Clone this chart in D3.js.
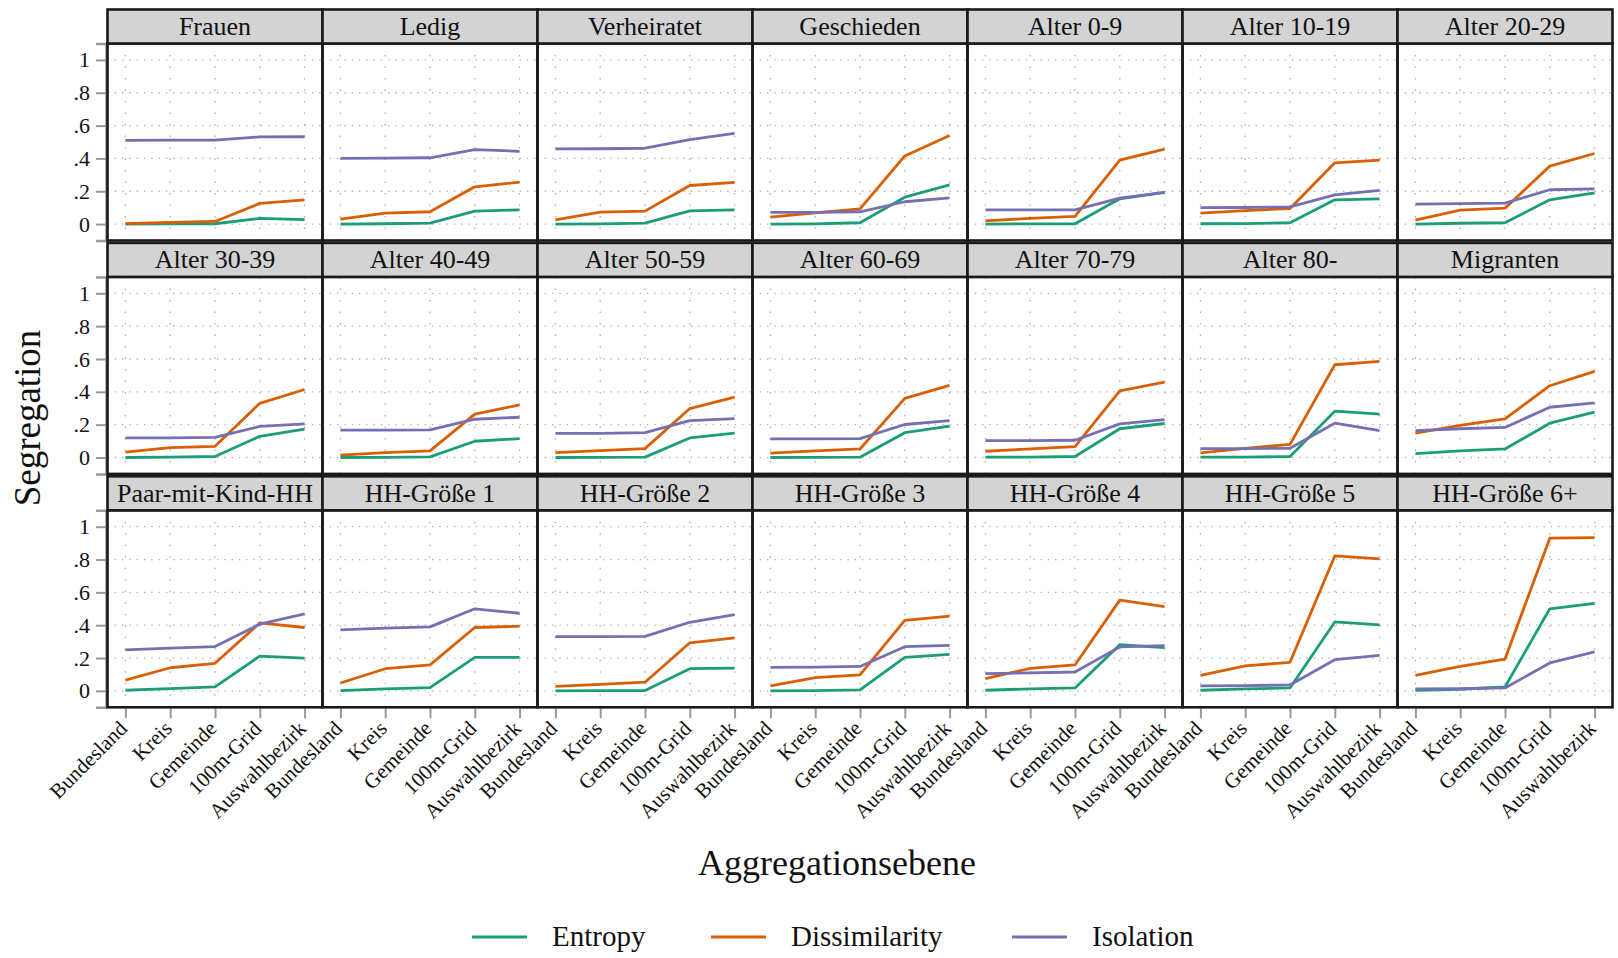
<!DOCTYPE html>
<html>
<head>
<meta charset="utf-8">
<script src="https://cdn.jsdelivr.net/npm/d3@7"></script>
<style>
  body { margin: 0; background: #fff; }
  svg text { font-family: "Liberation Serif", "Times New Roman", Times, serif; fill: #111; }
</style>
</head>
<body>
<div id="chart"></div>
<script>
// facets, x levels and the three index series (one row of 5 values per facet)
var panels = ['Frauen','Ledig','Verheiratet','Geschieden','Alter 0-9','Alter 10-19','Alter 20-29',
  'Alter 30-39','Alter 40-49','Alter 50-59','Alter 60-69','Alter 70-79','Alter 80-','Migranten',
  'Paar-mit-Kind-HH','HH-Größe 1','HH-Größe 2','HH-Größe 3','HH-Größe 4','HH-Größe 5','HH-Größe 6+'];

var levels = ['Bundesland','Kreis','Gemeinde','100m-Grid','Auswahlbezirk'];

var seriesNames = ['Entropy','Dissimilarity','Isolation'];
var seriesColors = ['#1b9e77','#d95f02','#7570b3'];

var entropy = [
  [0.000,0.001,0.002,0.035,0.027],
  [0.000,0.002,0.006,0.079,0.087],
  [0.000,0.001,0.006,0.081,0.087],
  [0.000,0.001,0.008,0.164,0.239],
  [0.000,0.001,0.002,0.154,0.193],
  [0.002,0.003,0.008,0.148,0.154],
  [0.000,0.005,0.008,0.148,0.190],
  [0.000,0.002,0.006,0.129,0.173],
  [0.000,0.001,0.004,0.099,0.115],
  [0.000,0.001,0.002,0.119,0.149],
  [0.000,0.001,0.002,0.151,0.191],
  [0.002,0.002,0.006,0.175,0.207],
  [0.002,0.002,0.006,0.282,0.264],
  [0.024,0.040,0.052,0.209,0.276],
  [0.004,0.014,0.024,0.212,0.200],
  [0.002,0.012,0.020,0.204,0.204],
  [0.000,0.001,0.002,0.135,0.139],
  [0.000,0.002,0.006,0.204,0.222],
  [0.004,0.012,0.018,0.281,0.263],
  [0.004,0.012,0.018,0.420,0.402],
  [0.004,0.010,0.024,0.500,0.533]
];

var dissimilarity = [
  [0.003,0.010,0.016,0.126,0.148],
  [0.030,0.067,0.075,0.227,0.256],
  [0.026,0.073,0.079,0.235,0.254],
  [0.043,0.068,0.093,0.415,0.540],
  [0.020,0.035,0.047,0.390,0.456],
  [0.067,0.082,0.095,0.373,0.389],
  [0.024,0.085,0.097,0.353,0.430],
  [0.032,0.060,0.068,0.330,0.414],
  [0.014,0.030,0.040,0.264,0.320],
  [0.030,0.042,0.054,0.298,0.368],
  [0.026,0.040,0.052,0.360,0.439],
  [0.038,0.052,0.066,0.406,0.459],
  [0.028,0.055,0.080,0.565,0.585],
  [0.149,0.195,0.235,0.437,0.525],
  [0.065,0.141,0.168,0.414,0.386],
  [0.048,0.135,0.158,0.386,0.394],
  [0.028,0.040,0.053,0.293,0.323],
  [0.030,0.081,0.097,0.430,0.455],
  [0.075,0.137,0.158,0.553,0.513],
  [0.095,0.152,0.174,0.822,0.804],
  [0.095,0.150,0.194,0.930,0.933]
];

var isolation = [
  [0.510,0.511,0.512,0.531,0.532],
  [0.400,0.402,0.404,0.454,0.443],
  [0.458,0.459,0.462,0.515,0.552],
  [0.071,0.071,0.075,0.136,0.160],
  [0.086,0.086,0.087,0.158,0.193],
  [0.100,0.101,0.105,0.178,0.205],
  [0.122,0.125,0.128,0.209,0.215],
  [0.119,0.120,0.123,0.189,0.205],
  [0.167,0.167,0.168,0.233,0.245],
  [0.147,0.147,0.151,0.225,0.237],
  [0.113,0.113,0.115,0.201,0.225],
  [0.103,0.103,0.105,0.205,0.231],
  [0.054,0.054,0.056,0.209,0.163],
  [0.163,0.175,0.183,0.306,0.332],
  [0.250,0.260,0.270,0.406,0.469],
  [0.372,0.382,0.390,0.500,0.473],
  [0.331,0.331,0.332,0.418,0.465],
  [0.143,0.145,0.149,0.269,0.277],
  [0.105,0.110,0.115,0.268,0.276],
  [0.030,0.032,0.036,0.190,0.216],
  [0.012,0.013,0.018,0.170,0.238]
];

var yTicks = [0, 0.2, 0.4, 0.6, 0.8, 1];
var yTickLabels = ['0', '.2', '.4', '.6', '.8', '1'];

// layout
var width = 1618, height = 958;
var left = 107.5, panelW = 215, cols = 7;
var top0 = 9.5, rowStep = 233.4, stripH = 34, plotH = 197;
var serif = '"Liberation Serif", "Times New Roman", Times, serif';

var seriesData = [entropy, dissimilarity, isolation];

var svg = d3.select('#chart').append('svg')
  .attr('width', width)
  .attr('height', height)
  .attr('font-family', serif);

var x = d3.scalePoint().domain(levels).range([0, panelW]).padding(0.4);
var y = d3.scaleLinear().domain([-0.1, 1.1]).range([plotH, 0]);

var line = d3.line()
  .x(function (d, i) { return x(levels[i]); })
  .y(function (d) { return y(d); });

panels.forEach(function (name, p) {
  var col = p % cols, row = Math.floor(p / cols);
  var px = left + col * panelW;
  var sy = top0 + row * rowStep;
  var g = svg.append('g').attr('transform', 'translate(' + px + ',' + (sy + stripH) + ')');

  // grid
  g.selectAll('.hg').data(yTicks).enter().append('line')
    .attr('x1', 0).attr('x2', panelW)
    .attr('y1', function (d) { return y(d); })
    .attr('y2', function (d) { return y(d); })
    .attr('stroke', '#b0b0b0').attr('stroke-width', 1.3)
    .attr('stroke-dasharray', '1.3,6');
  g.selectAll('.vg').data(levels).enter().append('line')
    .attr('y1', 0).attr('y2', plotH)
    .attr('x1', function (d) { return x(d); })
    .attr('x2', function (d) { return x(d); })
    .attr('stroke', '#b0b0b0').attr('stroke-width', 1.3)
    .attr('stroke-dasharray', '1.5,10');

  // series
  seriesData.forEach(function (s, k) {
    g.append('path')
      .datum(s[p])
      .attr('d', line)
      .attr('fill', 'none')
      .attr('stroke', seriesColors[k])
      .attr('stroke-width', 2.8)
      .attr('stroke-linejoin', 'round');
  });

  // y axis on first column
  if (col === 0) {
    var ya = g.append('g').attr('transform', 'translate(-1.5,0)')
      .call(d3.axisLeft(y).tickValues(yTicks).tickSize(10).tickPadding(6)
        .tickFormat(function (d, i) { return yTickLabels[i]; }));
    ya.attr('font-family', serif);
    ya.select('.domain').attr('stroke', '#999').attr('stroke-width', 2.5);
    ya.selectAll('.tick line').attr('stroke', '#999').attr('stroke-width', 2);
    ya.selectAll('.tick text').style('font-size', '22px');
  }

  // x axis on bottom row
  if (row === 2) {
    var xa = g.append('g').attr('transform', 'translate(0,' + (plotH + 1) + ')')
      .call(d3.axisBottom(x).tickSize(10).tickPadding(4));
    xa.attr('font-family', serif);
    xa.select('.domain').remove();
    xa.selectAll('.tick line').attr('stroke', '#999').attr('stroke-width', 2);
    xa.selectAll('.tick text')
      .style('font-size', '21px')
      .attr('text-anchor', 'end')
      .attr('dy', '0.3em')
      .attr('transform', 'translate(-2,17) rotate(-45)')
      .attr('y', 0).attr('x', 0);
  }

  // panel border
  g.append('rect')
    .attr('x', 0).attr('y', 0).attr('width', panelW).attr('height', plotH)
    .attr('fill', 'none').attr('stroke', '#1a1a1a').attr('stroke-width', 2.6);

  // strip
  svg.append('rect')
    .attr('x', px).attr('y', sy).attr('width', panelW).attr('height', stripH)
    .attr('fill', '#d3d3d3').attr('stroke', '#1a1a1a').attr('stroke-width', 2.6);
  svg.append('text')
    .attr('x', px + panelW / 2).attr('y', sy + 25.5)
    .attr('text-anchor', 'middle')
    .style('font-size', '26px')
    .text(name);
});

// axis titles
svg.append('text')
  .attr('transform', 'translate(40,418) rotate(-90)')
  .attr('text-anchor', 'middle')
  .style('font-size', '37px')
  .text('Segregation');

svg.append('text')
  .attr('x', 837).attr('y', 875)
  .attr('text-anchor', 'middle')
  .style('font-size', '36px')
  .text('Aggregationsebene');

// legend
var legendX = [472, 711, 1012];
var legend = svg.selectAll('.legend').data(seriesNames).enter().append('g')
  .attr('transform', function (d, i) { return 'translate(' + legendX[i] + ',937)'; });
legend.append('line')
  .attr('x1', 0).attr('x2', 55).attr('y1', 0).attr('y2', 0)
  .attr('stroke', function (d, i) { return seriesColors[i]; })
  .attr('stroke-width', 3.2);
legend.append('text')
  .attr('x', 80).attr('y', 9)
  .style('font-size', '29px')
  .text(function (d) { return d; });
</script>
</body>
</html>
